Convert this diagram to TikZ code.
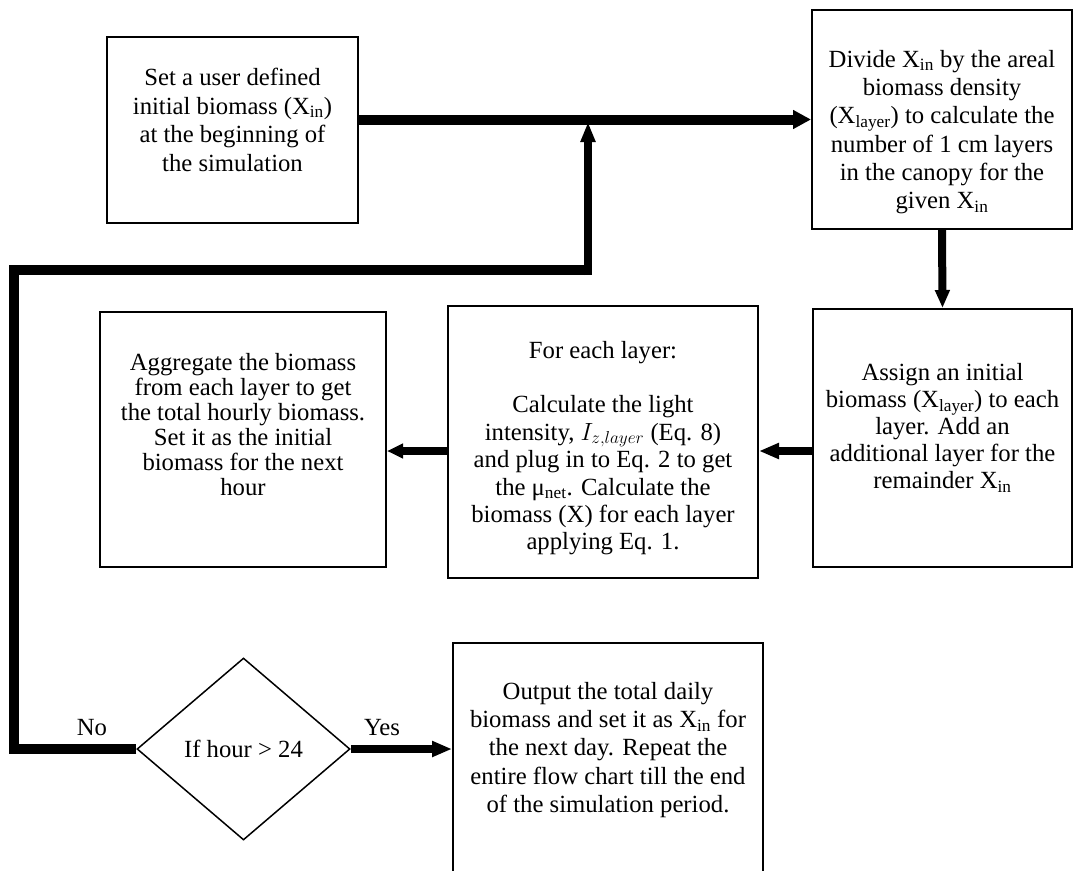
\documentclass[tikz,border=0pt]{standalone}
\usepackage{fontspec}
\setmainfont{Liberation Serif}
\usetikzlibrary{arrows.meta,shapes.geometric}
\tikzset{
  box/.style={draw, line width=2pt, inner sep=0pt},
  txt/.style={align=center, inner sep=0pt, font=\fontsize{24.7}{#1}\selectfont},
  txt/.default=28.3,
  thickline/.style={line width=10pt, line join=miter},
  arr/.style={line width=8pt, -{Triangle[length=20pt,width=15pt]}},
}
\begin{document}
\begin{tikzpicture}[x=1pt,y=-1pt]
\useasboundingbox (0,0) rectangle (1073,870);
\clip (0,0) rectangle (1073,870);
% boxes
\node[box, minimum width=251pt, minimum height=186pt] (b1) at (232.5,130) {};
\node[box, minimum width=260pt, minimum height=219pt] (b2) at (942,119.5) {};
\node[box, minimum width=259pt, minimum height=258pt] (b3) at (942.5,438) {};
\node[box, minimum width=310pt, minimum height=272pt] (fe) at (603,442) {};
\node[box, minimum width=286pt, minimum height=255pt] (agg) at (243,439.5) {};
\node[box, minimum width=310pt, minimum height=250pt] (out) at (608,768) {};
\node[draw, diamond, line width=1.5pt, inner sep=0pt, minimum width=213pt, minimum height=182pt] (dia) at (243.5,749) {};
% texts
\node[txt=28.7] (t1) at (232.5,120) {Set a user defined\\ initial biomass (X\textsubscript{in})\\ at the beginning of\\ the simulation};
\node[txt=28.3] (t2) at (942,132) {Divide X\textsubscript{in} by the areal\\ biomass density\\ (X\textsubscript{layer}) to calculate the\\ number of 1 cm layers\\ in the canopy for the\\ given X\textsubscript{in}};
\node[txt=27] (t3) at (942.5,428) {Assign an initial\\ biomass (X\textsubscript{layer}) to each\\ layer. Add an\\ additional layer for the\\ remainder X\textsubscript{in}};
\node[txt=27.4] (tfe) at (603,448) {For each layer:\\[27.4pt] Calculate the light\\ intensity, $I_{z,layer}$ (Eq. 8)\\ and plug in to Eq. 2 to get\\ the μ\textsubscript{net}. Calculate the\\ biomass (X) for each layer\\ applying Eq. 1.};
\node[txt=25] (tagg) at (243,425) {Aggregate the biomass\\ from each layer to get\\ the total hourly biomass.\\ Set it as the initial\\ biomass for the next\\ hour};
\node[txt=28.3] (tout) at (608,750) {Output the total daily\\ biomass and set it as X\textsubscript{in} for\\ the next day. Repeat the\\ entire flow chart till the end\\ of the simulation period.};
\node[txt] (tdia) at (dia.center) {If hour > 24};
\node[txt] (no) at (92,728) {No};
\node[txt] (yes) at (382,728) {Yes};
% coordinates for the loop
\coordinate (c1) at (14,749);
\coordinate (c2) at (14,270);
\coordinate (c3) at (592,270);
\coordinate (c4) at (588,275);
\coordinate (c5) at (588,122);
% connectors
\draw[line width=10pt, -{Triangle[length=18pt,width=18pt]}] (b1.east |- b2.west) -- (b2.west);
\draw[arr, -{Triangle[length=18pt,width=14pt]}] (b2.south) -- (b3.north);
\draw[arr] ([yshift=-13pt]b3.west) -- ([yshift=-13pt]b3.west -| fe.east);
\draw[arr, -{Triangle[length=16pt,width=14pt]}] ([yshift=-9pt]fe.west) -- ([yshift=-9pt]fe.west -| agg.east);
\draw[thickline] (dia.west) -- (c1) -- (c2) -- (c3);
\draw[arr, -{Triangle[length=20pt,width=14pt]}] (c4) -- (c5);
\draw[arr] (dia.east) -- (dia.east -| out.west);
\end{tikzpicture}
\end{document}
